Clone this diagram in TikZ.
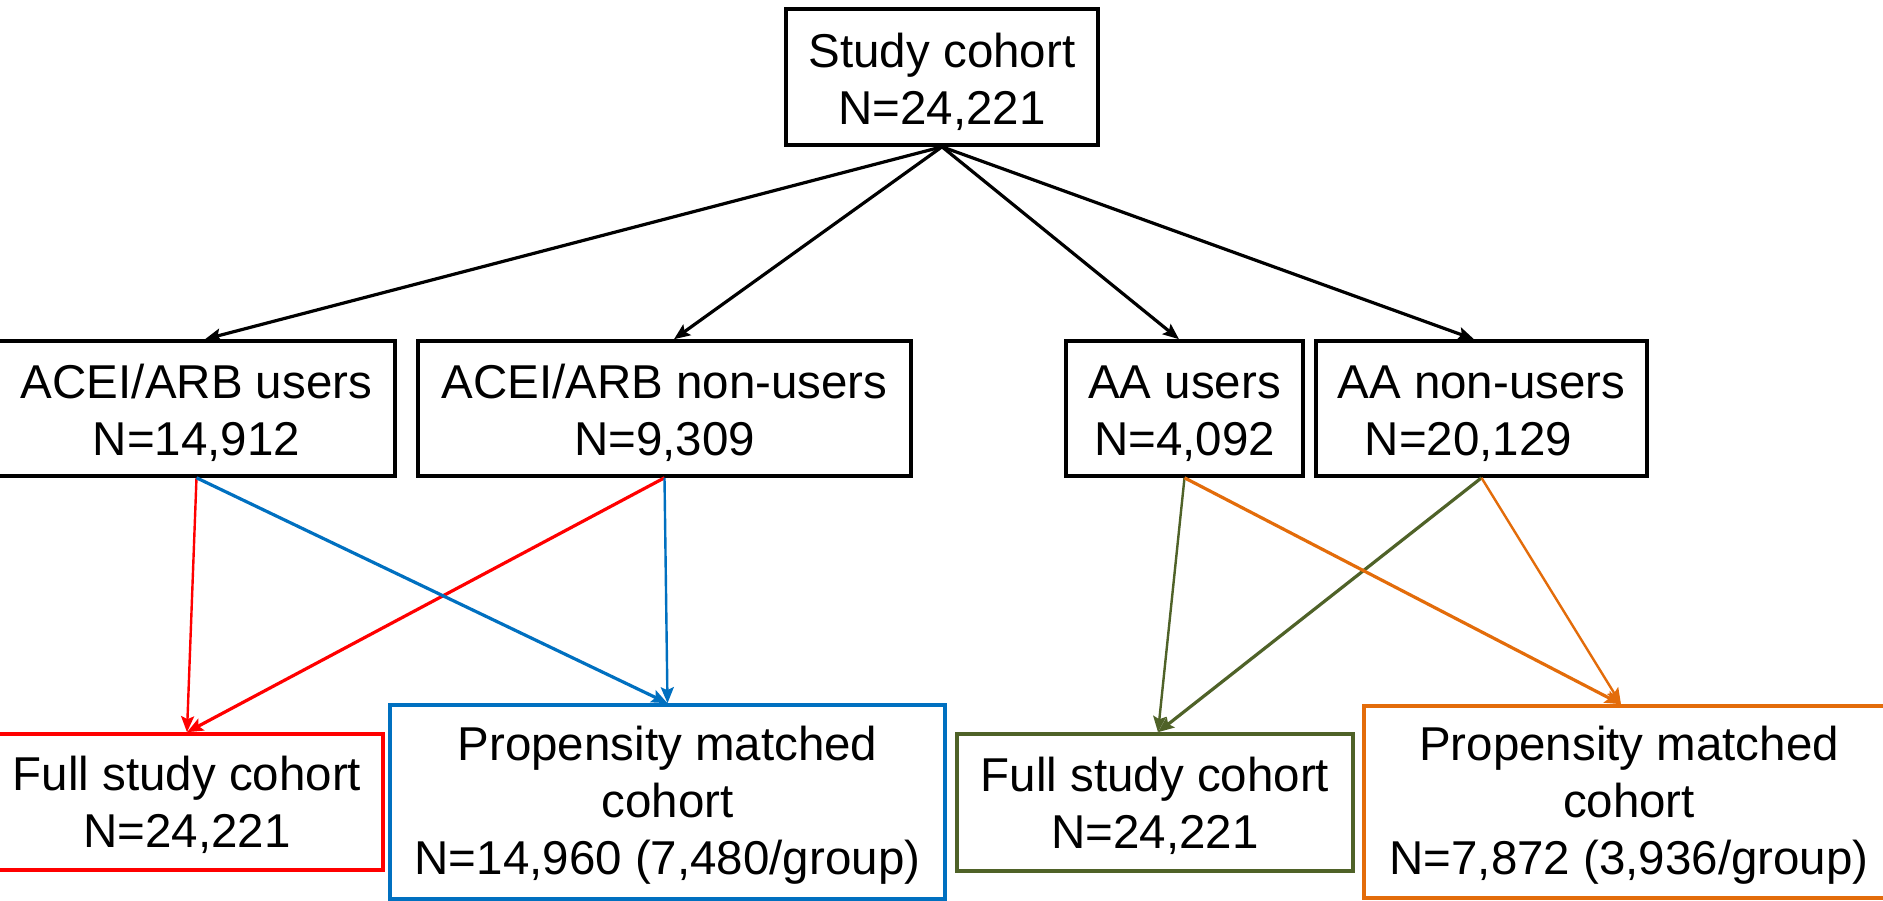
\documentclass[tikz,border=0pt]{standalone}
\usepackage{fontspec}
\setmainfont{Liberation Sans}
\usetikzlibrary{arrows.meta,calc}
\definecolor{cred}{HTML}{FF0000}
\definecolor{cblue}{HTML}{0070C0}
\definecolor{cgreen}{HTML}{4F6228}
\definecolor{corange}{HTML}{E36C0A}
\newcommand{\upA}{\rule{0pt}{44pt}}
\newcommand{\upB}{\rule{0pt}{41pt}}
\tikzset{
  box/.style={draw, line width=3.6pt, inner sep=0pt, align=center,
    font=\fontsize{47.5}{57}\selectfont, minimum height=135pt},
  arr/.style={line width=3.2pt, -{Stealth[length=16pt,width=13pt,inset=3pt]}},
  thinarr/.style={arr, line width=2.4pt},
}
\begin{document}
\begin{tikzpicture}[x=1pt,y=-1pt]
\useasboundingbox (0,0) rectangle (1883,900);
\clip (0,0) rectangle (1883,900);
\fill[white] (0,0) rectangle (1883,900);
% top
\node[box, minimum width=312pt, minimum height=136pt] (study) at (942,77) {\upA Study cohort\\N=24,221};
% middle row
\node[box, minimum width=397pt] (u1) at (196.5,408.5) {\upA ACEI/ARB users\\N=14,912};
\node[box, minimum width=493pt] (u2) at (664.5,408.5) {\upA ACEI/ARB non-users\\N=9,309};
\node[box, minimum width=237pt] (a1) at (1184.5,408.5) {\upA AA users\\N=4,092};
\node[box, minimum width=331pt] (a2) at (1481.5,408.5) {\upA AA non-users\\N=20,129\hspace*{0.55em}};
% bottom row
\node[box, draw=cred, minimum width=392pt, minimum height=136pt] (f1) at (187,802) {\upB Full study cohort\\N=24,221};
\node[box, draw=cblue, minimum width=555pt, minimum height=194pt] (p1) at (667.5,802) {\upB Propensity matched\\cohort\\N=14,960 (7,480/group)};
\node[box, draw=cgreen, minimum width=396pt, minimum height=137pt] (f2) at (1155,802.5) {\upB Full study cohort\\N=24,221};
\node[box, draw=corange, minimum width=530pt, minimum height=192pt] (p2) at (1629,802) {\upB Propensity matched\\cohort\\N=7,872 (3,936/group)};
% black arrows
\draw[arr] (study.south) -- ($(u1.north)+(8.5,0)$);
\draw[arr] (study.south) -- ($(u2.north)+(9.5,0)$);
\draw[arr] (study.south) -- ($(a1.north)+(-5.5,0)$);
\draw[arr] (study.south) -- ($(a2.north)+(-7.5,0)$);
% ACEI/ARB
\draw[thinarr, cred] (u1.south) -- (f1.north);
\draw[arr, cred] (u2.south) -- (f1.north);
\draw[arr, cblue] (u1.south) -- (p1.north);
\draw[thinarr, cblue] (u2.south) -- (p1.north);
% AA
\draw[thinarr, cgreen] (a1.south) -- ($(f2.north)+(3,0)$);
\draw[arr, cgreen] (a2.south) -- ($(f2.north)+(3,0)$);
\draw[arr, corange] (a1.south) -- ($(p2.north)+(-8,0)$);
\draw[thinarr, corange] (a2.south) -- ($(p2.north)+(-8,0)$);
\end{tikzpicture}
\end{document}
